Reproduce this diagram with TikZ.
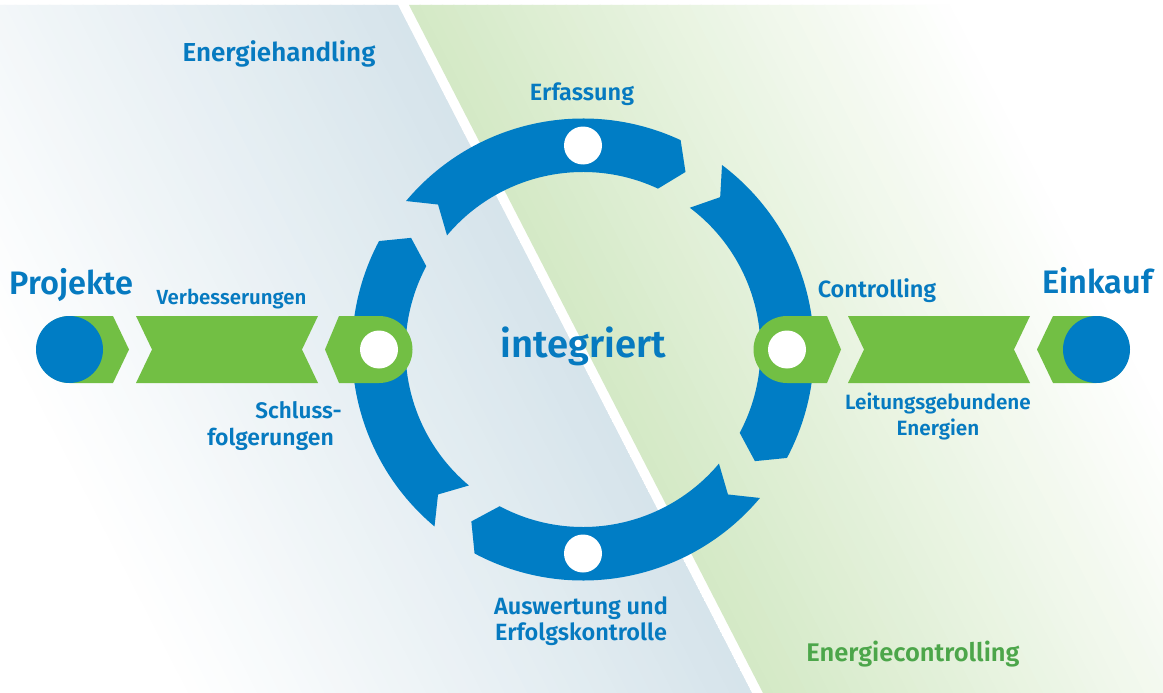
\documentclass[tikz,border=0pt]{standalone}
\usepackage{fontspec}
\setmainfont{Fira Sans}[BoldFont={Fira Sans SemiBold}]
\definecolor{ringblue}{RGB}{0,125,197}
\definecolor{pillgreen}{RGB}{114,191,68}
\definecolor{txtblue}{RGB}{6,122,192}
\definecolor{txtgreen}{RGB}{76,166,74}
\definecolor{bgblue}{RGB}{214,228,235}
\definecolor{bggreen}{RGB}{212,233,198}
\newcommand{\fsz}[1]{\bfseries\fontsize{#1}{#1}\selectfont}
\tikzset{
  lbl/.style={inner sep=0pt, text=txtblue, font=\fsz{21}},
  ttl/.style={inner sep=0pt, text=txtblue, font=\fsz{32.5}},
  ctrtxt/.style={inner sep=0pt, text=txtblue, font=\fsz{38.2}},
  areatxt/.style={inner sep=0pt},
  greenpill/.style={fill=pillgreen},
  ringseg/.style={fill=ringblue},
  whitehole/.style={fill=white},
  bluedot/.style={fill=ringblue},
}
\begin{document}
\begin{tikzpicture}[x=1pt,y=-1pt]
\useasboundingbox (0,0) rectangle (1163,693);
\fill[white] (0,0) rectangle (1163,693);
% left background region
\begin{scope}
  \clip (0,5) -- (398,5) -- (752,693) -- (0,693) -- cycle;
  \begin{scope}[shift={(398,5)}, rotate=207.2]
    \foreach \k in {0,...,49}{
      \pgfmathsetmacro\pc{100-\k*100/50}
      \fill[bgblue!\pc!white] (\k*10-0.6,-2000) -- (\k*10+10.6,-2000) -- (\k*10+10.6,2000) -- (\k*10-0.6,2000) -- cycle;
    }
  \end{scope}
\end{scope}
% right background region
\begin{scope}
  \clip (409,5) -- (1163,5) -- (1163,693) -- (763,693) -- cycle;
  \begin{scope}[shift={(409,5)}, rotate=27.2]
    \foreach \k in {0,...,47}{
      \pgfmathsetmacro\pc{100-\k*100/48}
      \fill[bggreen!\pc!white] (\k*10-0.6,-2000) -- (\k*10+10.6,-2000) -- (\k*10+10.6,2000) -- (\k*10-0.6,2000) -- cycle;
    }
  \end{scope}
\end{scope}
% ring of four arrow segments
\begin{scope}[shift={(583,349.5)}, yscale=-1]
  \foreach \a/\b in {140/65, 53/-28, -40/-118, -130/-208}{
    \fill[ringseg] (\a:231) arc[start angle=\a, end angle=\b, radius=231]
      -- ({\b-5}:205) -- (\b:177.5) arc[start angle=\b, end angle=\a, radius=177.5]
      -- ({\a-5}:205) -- cycle;
  }
  \fill[whitehole] (90:204) circle[radius=19];
  \fill[whitehole] (270:204) circle[radius=19];
\end{scope}
% left chain
\fill[greenpill] (70,383) arc[start angle=90, end angle=270, radius=33.5] -- (113,316) -- (129,349.5) -- (113,383) -- cycle;
\fill[bluedot] (69.5,349.5) circle[radius=33.5];
\fill[greenpill] (136,316) -- (318,316) -- (302,349.5) -- (318,383) -- (136,383) -- (152,349.5) -- cycle;
\fill[greenpill] (325,349.5) -- (339,316) -- (379,316) arc[start angle=-90, end angle=90, radius=33.5] -- (339,383) -- cycle;
\fill[whitehole] (379,349.5) circle[radius=19];
% right chain
\fill[greenpill] (841,349.5) -- (827,316) -- (787,316) arc[start angle=-90, end angle=-270, radius=33.5] -- (827,383) -- cycle;
\fill[whitehole] (787,349.5) circle[radius=19];
\fill[greenpill] (1030,316) -- (848,316) -- (864,349.5) -- (848,383) -- (1030,383) -- (1014,349.5) -- cycle;
\fill[greenpill] (1096,383) arc[start angle=90, end angle=-90, radius=33.5] -- (1053,316) -- (1037,349.5) -- (1053,383) -- cycle;
\fill[bluedot] (1096.5,349.5) circle[radius=33.5];
% texts
\node[areatxt, text=txtblue, font=\fsz{26}, anchor=base] (eh) at (279,62) {Energiehandling};
\node[areatxt, text=txtgreen, font=\fsz{25.5}, anchor=base] (ec) at (913,661) {Energiecontrolling};
\node[lbl, font=\fsz{23.5}, anchor=base] (erf) at (582,100) {Erfassung};
\node[ttl, anchor=base] (proj) at (71.5,294) {Projekte};
\node[ttl, anchor=base] (eink) at (1097.5,293) {Einkauf};
\node[lbl, font=\fsz{20.4}, anchor=base] (verb) at (231.5,304) {Verbesserungen};
\node[lbl, font=\fsz{22.5}, anchor=base east] (schl1) at (342,418) {Schluss-};
\node[lbl, font=\fsz{23}, anchor=base east] (schl2) at (334,445) {folgerungen};
\node[ctrtxt, anchor=base] (integ) at (583.5,357) {integriert};
\node[lbl, font=\fsz{23.5}, anchor=base] (ctrl) at (877,297) {Controlling};
\node[lbl, font=\fsz{20.7}, anchor=base] (leit1) at (938,409) {Leitungsgebundene};
\node[lbl, font=\fsz{20.7}, anchor=base] (leit2) at (938,435) {Energien};
\node[lbl, font=\fsz{23.5}, anchor=base] (ausw1) at (581,614) {Auswertung und};
\node[lbl, font=\fsz{23.5}, anchor=base] (ausw2) at (581,640) {Erfolgskontrolle};
\end{tikzpicture}
\end{document}
